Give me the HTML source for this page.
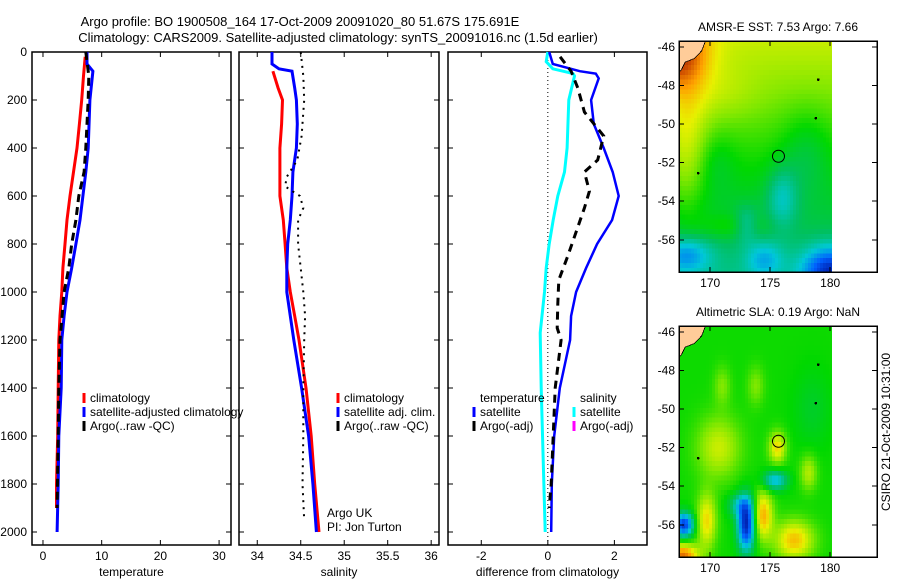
<!DOCTYPE html>
<html><head><meta charset="utf-8"><style>
body{margin:0;background:#fff}
svg{display:block;font-family:"Liberation Sans",sans-serif}
text{font-size:12px;fill:#000}
</style></head><body>
<svg id="s" width="900" height="580" viewBox="0 0 900 580" xmlns="http://www.w3.org/2000/svg">
<text x="300" y="26" text-anchor="middle" style="font-size:13px">Argo profile: BO 1900508_164 17-Oct-2009 20091020_80 51.67S 175.691E</text>
<text x="338" y="42" text-anchor="middle" style="font-size:13px">Climatology: CARS2009. Satellite-adjusted climatology: synTS_20091016.nc (1.5d earlier)</text>
</svg>
<script>
// ---- data ----
const depthTicks=[0,200,400,600,800,1000,1200,1400,1600,1800,2000];
const tempTicks=[0,10,20,30];
const salTicks=[34,34.5,35,35.5,36];
const salTickLabels=["34","34.5","35","35.5","36"];
const diffTicks=[-2,0,2];
const tempClimDepth=[20,100,200,300,400,500,600,700,800,900,1000,1100,1200,1400,1600,1800,1900];
const tempClim=[7.2,6.9,6.6,6.2,5.8,5.2,4.6,4.1,3.75,3.4,3.2,2.9,2.7,2.6,2.5,2.3,2.3];
const tempSatDepth=[0,50,80,200,400,500,600,700,800,900,1000,1100,1200,1400,1600,1800,2000];
const tempSat=[7.5,7.5,8.5,8.0,7.7,7.3,6.8,6.3,5.6,4.9,4.1,3.6,3.2,3.1,2.7,2.6,2.4];
const tempArgoDepth=[0,100,200,400,500,600,700,800,900,1000,1200,1400,1600,1900];
const tempArgo=[7.3,7.8,7.7,7.3,7.0,6.1,5.6,4.9,4.4,3.6,2.9,2.7,2.6,2.4];
const salClimDepth=[80,150,200,300,400,500,600,700,800,900,1000,1100,1200,1400,1600,1800,2000];
const salClim=[34.18,34.24,34.29,34.28,34.26,34.26,34.26,34.30,34.32,34.34,34.38,34.43,34.48,34.56,34.62,34.66,34.71];
const salSatDepth=[0,50,70,80,150,200,300,400,500,600,700,800,900,1000,1100,1200,1400,1600,1800,2000];
const salSat=[34.17,34.17,34.25,34.40,34.43,34.45,34.46,34.45,34.41,34.40,34.38,34.35,34.34,34.34,34.38,34.42,34.51,34.59,34.64,34.68];
const salArgoDepth=[0,100,200,350,450,520,560,600,650,700,800,900,1000,1100,1200,1400,1600,1800,1950];
const salArgo=[34.50,34.53,34.54,34.51,34.46,34.34,34.32,34.49,34.53,34.47,34.47,34.50,34.53,34.55,34.54,34.53,34.53,34.52,34.54];
const dSalDepth=[0,40,70,90,100,200,400,500,600,700,800,900,1000,1170,1400,1700,2000];
const dSal=[0,-0.05,0.15,0.76,0.8,0.63,0.58,0.5,0.3,0.16,0.04,-0.05,-0.1,-0.23,-0.2,-0.14,-0.08];
const dTempDepth=[0,50,80,90,110,200,300,400,500,600,700,800,900,1000,1100,1200,1400,1600,1800,2000];
const dTemp=[0.04,0.15,0.96,1.44,1.53,1.3,1.38,1.68,1.95,2.13,1.93,1.48,1.15,0.85,0.7,0.67,0.36,0.19,0.12,0.1];
const dArgoDepth=[20,80,150,250,350,450,500,580,650,750,850,950,1050,1150,1200,1400,1600,1800,1900];
const dArgo=[0.37,0.7,0.9,1.1,1.68,1.5,1.1,1.25,1.1,0.85,0.6,0.33,0.3,0.28,0.4,0.22,0.16,0.1,0.04];
const lonTicks=[170,175,180];
const latTicks=[-46,-48,-50,-52,-54,-56];

const NS="http://www.w3.org/2000/svg";
const svg=document.getElementById('s');
function mk(tag,at,parent){const e=document.createElementNS(NS,tag);for(const k in at)e.setAttribute(k,at[k]);(parent||svg).appendChild(e);return e;}
const Y0=52, DPX=0.24, AX_BOT=545;
const yD=d=>Y0+d*DPX;

function panel(name,L,R,xmin,xmax,ticks,labels,xlabel){
  const g=mk('g',{});
  
  
  const xs=v=>L+(v-xmin)/(xmax-xmin)*(R-L);
  mk('rect',{x:L,y:Y0,width:R-L,height:AX_BOT-Y0,fill:'none',stroke:'#000','stroke-width':1.5},g);
  ticks.forEach((t,i)=>{const x=xs(t);
    mk('line',{x1:x,x2:x,y1:AX_BOT,y2:AX_BOT-5,stroke:'#000'},g);
    mk('line',{x1:x,x2:x,y1:Y0,y2:Y0+5,stroke:'#000'},g);
    const tx=mk('text',{x:x,y:560,'text-anchor':'middle'},g);tx.textContent=labels[i];
    
    
  });
  depthTicks.forEach(d=>{const y=yD(d);
    mk('line',{x1:L,x2:L+5,y1:y,y2:y,stroke:'#000'},g);
    mk('line',{x1:R,x2:R-5,y1:y,y2:y,stroke:'#000'},g);
  });
  const xl=mk('text',{x:(L+R)/2,y:576,'text-anchor':'middle'},g);xl.textContent=xlabel;
  
  
  return {g,xs};
}
function line(p,dep,val,col,w,dash,nm){
  const pts=dep.map((d,i)=>p.xs(val[i]).toFixed(1)+','+yD(d).toFixed(1)).join(' ');
  const e=mk('polyline',{points:pts,fill:'none',stroke:col,'stroke-width':w,'stroke-dasharray':dash||'none'},p.g);
  
  
}
function txt(x,y,s,nm,anchor){const t=mk('text',{x:x,y:y,'text-anchor':anchor||'start'});t.textContent=s;
  
  return t;}
function legend(x,y,items){items.forEach((it,i)=>{
  if(it[0])mk('rect',{x:x-1.5,y:y+i*14-9,width:3,height:10,fill:it[0]});
  txt(x+6,y+i*14,it[1],'legend-entry');});}

depthTicks.forEach(d=>txt(27,yD(d)+4,String(d),'y-tick-label','end'));

const p1=panel('temperature-panel',32,231,-1.87,32.03,tempTicks,tempTicks.map(String),'temperature');
line(p1,tempClimDepth,tempClim,'#f00',3,null,'temp-climatology-line');
line(p1,tempSatDepth,tempSat,'#00f',3,null,'temp-satellite-line');
line(p1,tempArgoDepth,tempArgo,'#000',3,'8,5','temp-argo-line');
legend(84,402,[['#f00','climatology'],['#00f','satellite-adjusted climatology'],['#000','Argo(..raw -QC)']]);

const p2=panel('salinity-panel',239,439,33.79,36.09,salTicks,salTickLabels,'salinity');
line(p2,salClimDepth,salClim,'#f00',3,null,'sal-climatology-line');
line(p2,salSatDepth,salSat,'#00f',3,null,'sal-satellite-line');
line(p2,salArgoDepth,salArgo,'#000',2,'2,5','sal-argo-line');
legend(338,402,[['#f00','climatology'],['#00f','satellite adj. clim.'],['#000','Argo(..raw -QC)']]);
txt(327,517,'Argo UK','pi-label');txt(327,531,'PI: Jon Turton','pi-label');

const p3=panel('difference-panel',448,647,-3,2.98,diffTicks,diffTicks.map(String),'difference from climatology');
mk('line',{x1:p3.xs(0),x2:p3.xs(0),y1:Y0,y2:AX_BOT,stroke:'#000','stroke-width':1,'stroke-dasharray':'1,3'},p3.g);
line(p3,dSalDepth,dSal,'#0ff',3,null,'diff-sal-satellite-line');
line(p3,dTempDepth,dTemp,'#00f',2.5,null,'diff-temp-satellite-line');
line(p3,dArgoDepth,dArgo,'#000',3,'8,6','diff-argo-line');
legend(474,402,[[null,'temperature'],['#00f','satellite'],['#000','Argo(-adj)']]);
legend(574,402,[[null,'salinity'],['#0ff','satellite'],['#f0f','Argo(-adj)']]);

// ---- maps ----
const stops=[[0,[0,20,160]],[0.15,[0,96,255]],[0.3,[0,200,216]],[0.42,[0,192,96]],[0.52,[0,216,0]],[0.62,[128,232,0]],[0.72,[232,240,0]],[0.82,[255,160,0]],[0.92,[208,80,0]],[1,[160,40,0]]];
function cmap(v){v=Math.max(0,Math.min(1,v));for(let i=1;i<stops.length;i++){if(v<=stops[i][0]){const a=stops[i-1],b=stops[i],t=(v-a[0])/(b[0]-a[0]);return 'rgb('+a[1].map((c,k)=>Math.round(c+(b[1][k]-c)*t)).join(',')+')';}}return 'rgb(160,40,0)';}
const bl=(lo,la,x,y,sx,sy,a)=>a*Math.exp(-((lo-x)*(lo-x)/(sx*sx)+(la-y)*(la-y)/(sy*sy)));
function sst(lo,la){let v=0.53+(la+52)*0.025;
  v+=bl(lo,la,167,-46.3,2.6,1.8,0.3)+bl(lo,la,168,-51,1.8,4,0.14)+bl(lo,la,171,-48.5,3,1.5,0.05)+bl(lo,la,172,-55.3,3,0.7,0.08);
  v-=bl(lo,la,176,-53.8,1.3,1.6,0.15)+bl(lo,la,173,-55.2,1,0.9,0.13)+bl(lo,la,180,-57.6,2.2,1.2,0.35)+bl(lo,la,178,-51.5,2,2.2,0.08)+bl(lo,la,168,-56.8,2,0.9,0.2)+bl(lo,la,174.5,-57,1.5,0.9,0.15)+bl(lo,la,170.5,-52,1.5,1.5,0.05);
  return v;}
function sla(lo,la){let v=0.53;
  v+=bl(lo,la,170.7,-52,1.8,1.6,0.16)+bl(lo,la,175.6,-52,0.7,0.8,0.22)+bl(lo,la,174.4,-55.5,0.8,1.2,0.27)+bl(lo,la,177,-56.8,1.6,1,0.25)+bl(lo,la,169.7,-55.8,0.8,1.4,0.22)+bl(lo,la,167.7,-57.6,1.3,0.6,0.35)+bl(lo,la,178.2,-53.3,0.7,0.9,0.14)+bl(lo,la,171,-48.8,0.7,1,0.09)+bl(lo,la,173.8,-48.8,0.7,1,0.09);
  v-=bl(lo,la,173,-56,0.7,1.3,0.5)+bl(lo,la,167.8,-56,0.8,0.6,0.45)+bl(lo,la,175.4,-53.7,1,0.5,0.25)+bl(lo,la,172.5,-55,1,0.6,0.17)+bl(lo,la,178.5,-50,1.5,2,0.05);
  return v;}
function map(name,top,title,fn,lonLabY){
  const L=679,R=877,B=top+231;
  const xs=lo=>L+(lo-167.4)*12, ys=la=>top+(-45.7-la)*19.3;
  const g=mk('g',{'shape-rendering':'crispEdges'});
  
  
  for(let lo=167.4;lo<180.1;lo+=0.25)for(let la=-45.7;la>-57.65;la-=0.25){
    mk('rect',{x:xs(lo).toFixed(1),y:ys(la).toFixed(1),width:3.5,height:5.3,fill:cmap(fn(lo+0.125,la-0.125))},g);}
  mk('rect',{x:832,y:top,width:45,height:231,fill:'#fff'},g);
  mk('rect',{x:L-5,y:B,width:200,height:6,fill:'#fff'},g);
  const land=mk('polygon',{points:[[xs(167.4),ys(-45.7)],[xs(169.6),ys(-45.7)],[xs(169.3),ys(-46.2)],[xs(168.7),ys(-46.6)],[xs(167.9),ys(-46.8)],[xs(167.6),ys(-47.2)],[xs(167.4),ys(-47.3)]].map(p=>p.join(',')).join(' '),fill:'#fc9',stroke:'#000','stroke-width':0.8},g);
  
  mk('rect',{x:L,y:top,width:R-L,height:231,fill:'none',stroke:'#000','stroke-width':1.5},g);
  const c=mk('circle',{cx:xs(175.69),cy:ys(-51.67),r:6,fill:'none',stroke:'#000','shape-rendering':'auto'},g);
  
  
  [[169,-52.55],[178.8,-49.7],[179,-47.7]].forEach(p=>mk('circle',{cx:xs(p[0]),cy:ys(p[1]),r:1.3,fill:'#000'},g));
  lonTicks.forEach(lo=>{const x=xs(lo);mk('line',{x1:x,x2:x,y1:top,y2:top+5,stroke:'#000'},g);mk('line',{x1:x,x2:x,y1:B,y2:B-5,stroke:'#000'},g);
    const t=mk('text',{x:x,y:lonLabY,'text-anchor':'middle'},g);t.textContent=lo;
    
    });
  latTicks.forEach(la=>{const y=ys(la);mk('line',{x1:L,x2:L+5,y1:y,y2:y,stroke:'#000'},g);mk('line',{x1:R,x2:R-5,y1:y,y2:y,stroke:'#000'},g);
    const t=mk('text',{x:675,y:y+4,'text-anchor':'end'},g);t.textContent=la;
    
    });
  const tt=mk('text',{x:778,y:top-10,'text-anchor':'middle'},g);tt.textContent=title;
  
  
}
map('sst-map',41,'AMSR-E SST: 7.53 Argo: 7.66',sst,287);
map('sla-map',326,'Altimetric SLA: 0.19 Argo: NaN',sla,572);
const cs=mk('text',{x:0,y:0,'text-anchor':'middle',transform:'translate(890,432) rotate(-90)'});
cs.textContent='CSIRO 21-Oct-2009 10:31:00';


</script>
</body></html>
